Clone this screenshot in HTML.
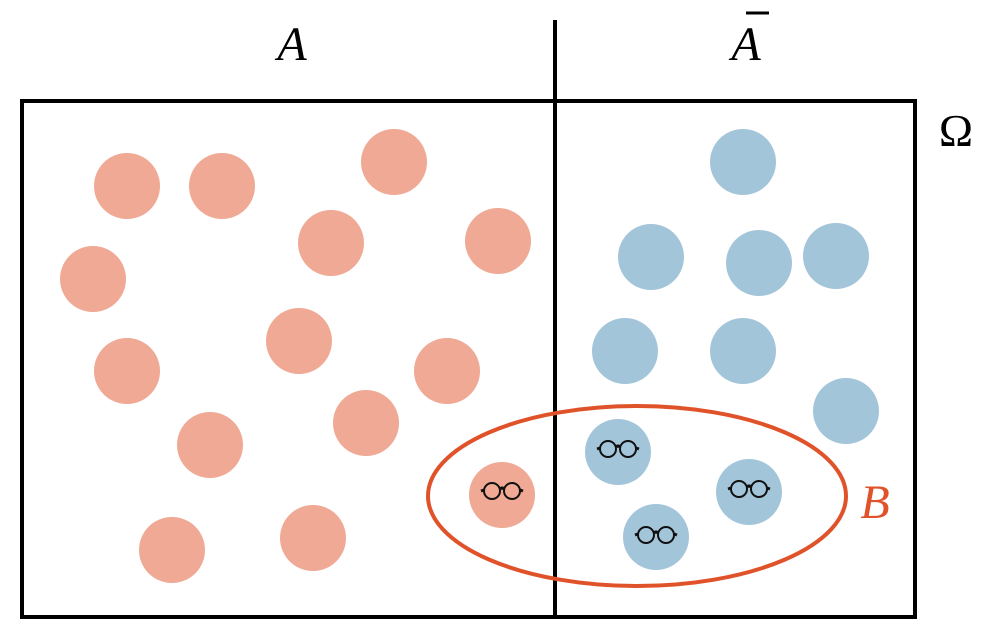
<!DOCTYPE html>
<html><head><style>body{margin:0;background:#fff}svg{display:block}</style></head><body>
<svg width="996" height="641" viewBox="0 0 996 641" xmlns="http://www.w3.org/2000/svg">
<defs>
<g id="gl" fill="none" stroke="#111" stroke-width="2">
<circle cx="-10" cy="0" r="8"/><circle cx="10" cy="0" r="8"/>
<path d="M-2 -2 Q0 -4 2 -2" stroke-width="3"/>
<path d="M-18 -1 L-21 0 M18 -1 L21 0" stroke-width="3"/>
</g>
</defs>
<g fill="#efa994">
<circle cx="127" cy="186" r="33"/><circle cx="222" cy="186" r="33"/><circle cx="394" cy="162" r="33"/>
<circle cx="331" cy="243" r="33"/><circle cx="498" cy="241" r="33"/><circle cx="93" cy="279" r="33"/>
<circle cx="299" cy="341" r="33"/><circle cx="127" cy="371" r="33"/><circle cx="447" cy="371" r="33"/>
<circle cx="366" cy="423" r="33"/><circle cx="210" cy="445" r="33"/><circle cx="502" cy="495" r="33"/>
<circle cx="172" cy="550" r="33"/><circle cx="313" cy="538" r="33"/>
</g>
<g fill="#a3c5da">
<circle cx="743" cy="162" r="33"/><circle cx="651" cy="257" r="33"/><circle cx="759" cy="263" r="33"/>
<circle cx="836" cy="256" r="33"/><circle cx="625" cy="351" r="33"/><circle cx="743" cy="351" r="33"/>
<circle cx="846" cy="411" r="33"/><circle cx="618" cy="452" r="33"/><circle cx="749" cy="492" r="33"/>
<circle cx="656" cy="537" r="33"/>
</g>
<use href="#gl" x="502" y="491"/><use href="#gl" x="618" y="449"/><use href="#gl" x="749" y="489"/><use href="#gl" x="656" y="535"/>
<rect x="22" y="101" width="893" height="516" fill="none" stroke="#000" stroke-width="4"/>
<line x1="555" y1="20" x2="555" y2="617" stroke="#000" stroke-width="4"/>
<ellipse cx="637" cy="496" rx="209" ry="90" fill="none" stroke="#e0532a" stroke-width="4"/>
<g font-family="Liberation Serif, serif" font-style="italic" font-size="48">
<text x="292" y="60" text-anchor="middle">A</text>
<text x="746" y="60" text-anchor="middle">A</text>
<text x="875" y="518" text-anchor="middle" fill="#e0532a">B</text>
</g>
<line x1="746" y1="13" x2="769" y2="13" stroke="#000" stroke-width="3"/>
<text x="956" y="146" text-anchor="middle" font-family="Liberation Serif, serif" font-size="46">Ω</text>
</svg>
</body></html>
